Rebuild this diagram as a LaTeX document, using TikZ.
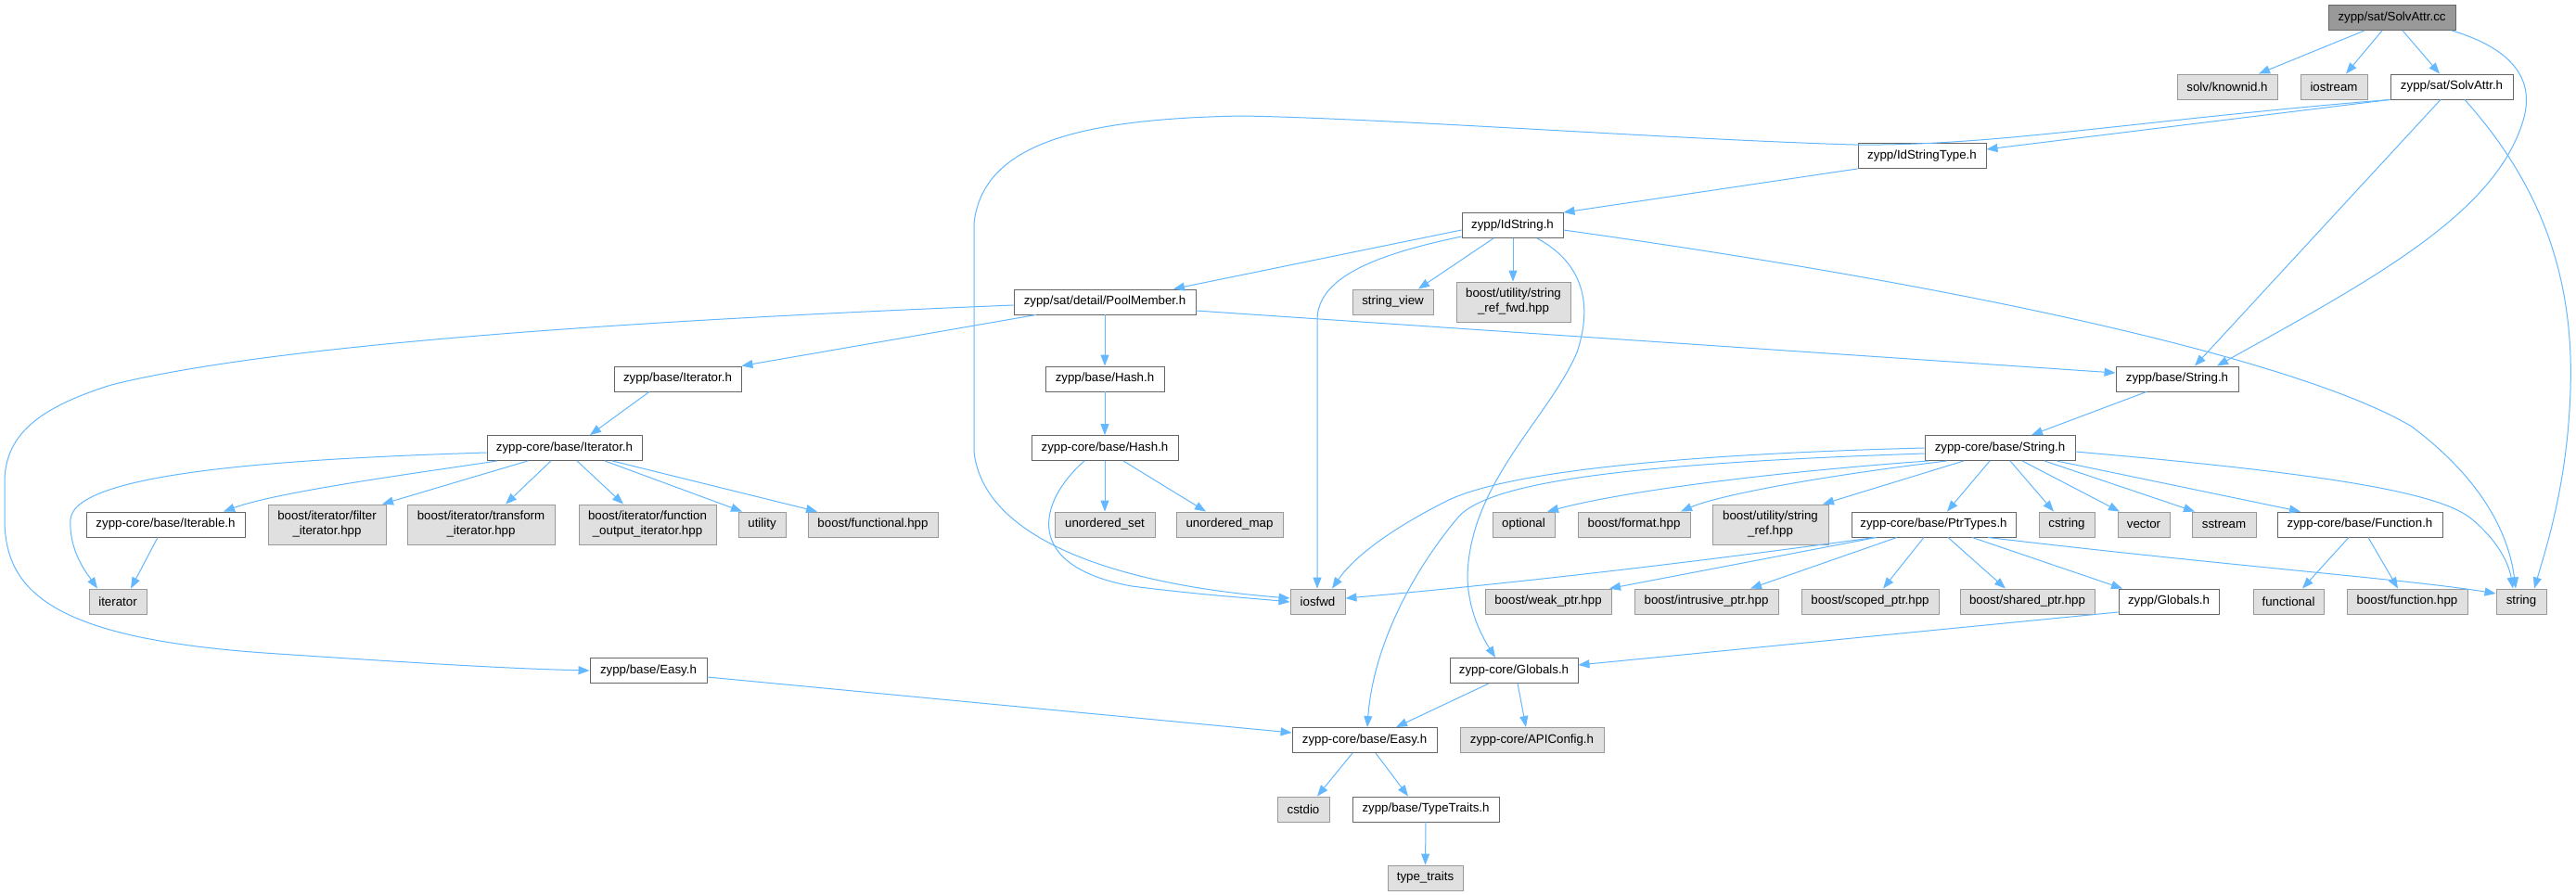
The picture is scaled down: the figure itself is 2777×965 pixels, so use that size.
\documentclass[tikz,border=0pt]{standalone}
\usepackage{fontspec}
\setmainfont{Liberation Sans}
\usetikzlibrary{arrows.meta}
\definecolor{cdark}{HTML}{666666}
\definecolor{cmid}{HTML}{999999}
\definecolor{clight}{HTML}{E0E0E0}
\definecolor{eblue}{HTML}{63B8FF}
\begin{document}
\begin{tikzpicture}[x=1pt,y=-1pt,
  base/.style={draw, rectangle, inner sep=0pt, minimum height=27pt, font=\fontsize{13.3}{16}\selectfont, text=black, line width=0.9pt},
  wbox/.style={base, draw=cdark, fill=white},
  gbox/.style={base, draw=cmid, fill=clight},
  rootbox/.style={base, draw=cdark, fill=cmid},
  twoline/.style={align=center, minimum height=43pt},
  edge/.style={draw=eblue, line width=1pt, -{Triangle[length=12pt,width=9pt]}}]
\useasboundingbox (0,0) rectangle (2777,965);
\fill[white] (0,0) rectangle (2777,965);
% row 0
\node[rootbox, minimum width=137] (cc) at (2578.5,19) {zypp/sat/SolvAttr.cc};
% row 1
\node[gbox, minimum width=108] (knownid) at (2401,93.5) {solv/knownid.h};
\node[gbox, minimum width=72] (iostream) at (2516,93.5) {iostream};
\node[wbox, minimum width=132] (SAh) at (2643,93.5) {zypp/sat/SolvAttr.h};
% row 2
\node[wbox, minimum width=138] (IST) at (2072,168) {zypp/IdStringType.h};
% row 3
\node[wbox, minimum width=109] (IdS) at (1630.5,243) {zypp/IdString.h};
% row 4
\node[gbox, minimum width=87] (sview) at (1501.5,325.5) {string\_view};
\node[gbox, twoline, minimum width=123] (sreffwd) at (1631.5,325.5) {boost/utility/string\\\_ref\_fwd.hpp};
\node[wbox, minimum width=196] (PM) at (1191,325.5) {zypp/sat/detail/PoolMember.h};
% row 5
\node[wbox, minimum width=137] (zIt) at (730.5,408.5) {zypp/base/Iterator.h};
\node[wbox, minimum width=128] (zHash) at (1191,408.5) {zypp/base/Hash.h};
\node[wbox, minimum width=132] (zString) at (2347,408.5) {zypp/base/String.h};
% row 6
\node[wbox, minimum width=167] (cIt) at (608.5,483) {zypp-core/base/Iterator.h};
\node[wbox, minimum width=158] (cHash) at (1191,483) {zypp-core/base/Hash.h};
\node[wbox, minimum width=162] (cString) at (2156,483) {zypp-core/base/String.h};
% row 7
\node[wbox, minimum width=171] (Iterable) at (178.5,565.5) {zypp-core/base/Iterable.h};
\node[gbox, twoline, minimum width=127] (filt) at (352.5,565.5) {boost/iterator/filter\\\_iterator.hpp};
\node[gbox, twoline, minimum width=159] (trans) at (518.5,565.5) {boost/iterator/transform\\\_iterator.hpp};
\node[gbox, twoline, minimum width=148] (fout) at (698,565.5) {boost/iterator/function\\\_output\_iterator.hpp};
\node[gbox, minimum width=51] (utility) at (821.5,565.5) {utility};
\node[gbox, minimum width=140] (fhpp) at (941,565.5) {boost/functional.hpp};
\node[gbox, minimum width=108] (uset) at (1191,565.5) {unordered\_set};
\node[gbox, minimum width=115] (umap) at (1325.5,565.5) {unordered\_map};
\node[gbox, minimum width=67] (optional) at (1642.5,565.5) {optional};
\node[gbox, minimum width=121] (format) at (1761.5,565.5) {boost/format.hpp};
\node[gbox, twoline, minimum width=125] (sref) at (1908.5,565.5) {boost/utility/string\\\_ref.hpp};
\node[wbox, minimum width=177] (Ptr) at (2084.5,565.5) {zypp-core/base/PtrTypes.h};
\node[gbox, minimum width=60] (cstring) at (2228,565.5) {cstring};
\node[gbox, minimum width=56] (vector) at (2311,565.5) {vector};
\node[gbox, minimum width=69] (sstream) at (2397.5,565.5) {sstream};
\node[wbox, minimum width=178] (Func) at (2544,565.5) {zypp-core/base/Function.h};
% row 8
\node[gbox, minimum width=62] (iterator) at (127,648.5) {iterator};
\node[gbox, minimum width=59] (iosfwd) at (1420.5,648.5) {iosfwd};
\node[gbox, minimum width=136] (weak) at (1669,648.5) {boost/weak\_ptr.hpp};
\node[gbox, minimum width=155] (intr) at (1839.5,648.5) {boost/intrusive\_ptr.hpp};
\node[gbox, minimum width=148] (scoped) at (2016,648.5) {boost/scoped\_ptr.hpp};
\node[gbox, minimum width=145] (shared) at (2185.5,648.5) {boost/shared\_ptr.hpp};
\node[wbox, minimum width=108] (zGlob) at (2338,648.5) {zypp/Globals.h};
\node[gbox, minimum width=76] (functional) at (2467,648.5) {functional};
\node[gbox, minimum width=130] (fhpp2) at (2595,648.5) {boost/function.hpp};
\node[gbox, minimum width=54] (string) at (2718,648.5) {string};
% row 9
\node[wbox, minimum width=126] (zEasy) at (699,723) {zypp/base/Easy.h};
\node[wbox, minimum width=138] (cGlob) at (1632,723) {zypp-core/Globals.h};
% row 10
\node[wbox, minimum width=156] (cEasy) at (1471,798) {zypp-core/base/Easy.h};
\node[gbox, minimum width=155] (api) at (1651.5,798) {zypp-core/APIConfig.h};
% row 11
\node[gbox, minimum width=56] (cstdio) at (1405,872.5) {cstdio};
\node[wbox, minimum width=158] (tt) at (1537,872.5) {zypp/base/TypeTraits.h};
% row 12
\node[gbox, minimum width=81] (ttraits) at (1536.5,946.5) {type\_traits};

% edges from SolvAttr.cc
\draw[edge] (2549,0 |- cc.south) -- (2435,0 |- knownid.north);
\draw[edge] (2568,0 |- cc.south) -- (2529,0 |- iostream.north);
\draw[edge] (2590,0 |- cc.south) -- (2630,0 |- SAh.north);
\draw[edge] (2643,0 |- cc.south) .. controls (2700,50) and (2735,80) .. (2720,130) .. controls (2690,230) and (2560,300) .. (2390,0 |- zString.north);
% SolvAttr.h
\draw[edge] (SAh.south west) -- (IST.east |- 0,161);
\draw[edge] (SAh.south west) .. controls (2300,130) and (2150,158) .. (1998,156) .. controls (1800,150) and (1500,128) .. (1340,125) .. controls (1150,128) and (1060,160) .. (1050,240) -- (1050,487) .. controls (1060,580) and (1200,630) .. (iosfwd.west |- 0,645);
\draw[edge] (2631,0 |- SAh.south) -- (2366,0 |- zString.north);
\draw[edge] (2657,0 |- SAh.south) .. controls (2740,200) and (2775,300) .. (2771,420) .. controls (2768,520) and (2745,590) .. (2732,0 |- string.north);
% IdStringType.h
\draw[edge] (IST.south west) -- (IdS.north east);
% IdString.h
\draw[edge] (IdS.west |- 0,248) -- (1265,0 |- PM.north);
\draw[edge] (IdS.west |- 0,255) .. controls (1480,275) and (1420,300) .. (1420,345) -- (1420,0 |- iosfwd.north);
\draw[edge] (1610,0 |- IdS.south) -- (1529,0 |- sview.north);
\draw[edge] (1631,0 |- IdS.south) -- (1631,0 |- sreffwd.north);
\draw[edge] (1657,0 |- IdS.south) .. controls (1700,280) and (1720,320) .. (1700,380) .. controls (1670,450) and (1585,520) .. (1582,620) .. controls (1582,660) and (1600,690) .. (1612,0 |- cGlob.north);
\draw[edge] (IdS.east |- 0,248) .. controls (2200,320) and (2500,400) .. (2600,460) .. controls (2680,520) and (2705,580) .. (2712,0 |- string.north);
% PoolMember.h
\draw[edge] (1117,0 |- PM.south) -- (zIt.north east);
\draw[edge] (PM.south) -- (zHash.north);
\draw[edge] (PM.east |- 0,335) -- (zString.west |- 0,402);
\draw[edge] (PM.west |- 0,329) .. controls (700,345) and (300,370) .. (120,415) .. controls (40,440) and (5,470) .. (5,520) -- (5,560) .. controls (5,640) and (60,690) .. (300,705) .. controls (450,715) and (550,721) .. (zEasy.west);
% Iterator
\draw[edge] (700,0 |- zIt.south) -- (636,0 |- cIt.north);
\draw[edge] (536,0 |- cIt.south) .. controls (450,510) and (300,530) .. (241,0 |- Iterable.north);
\draw[edge] (569,0 |- cIt.south) -- (412,0 |- filt.north);
\draw[edge] (594,0 |- cIt.south) -- (545,0 |- trans.north);
\draw[edge] (622,0 |- cIt.south) -- (672,0 |- fout.north);
\draw[edge] (652,0 |- cIt.south) -- (800,0 |- utility.north);
\draw[edge] (660,0 |- cIt.south) -- (881,0 |- fhpp.north);
\draw[edge] (cIt.west |- 0,488) .. controls (300,495) and (80,510) .. (76,560) .. controls (74,595) and (95,620) .. (105,0 |- iterator.north);
\draw[edge] (170,0 |- Iterable.south) -- (141,0 |- iterator.north);
% Hash
\draw[edge] (zHash.south) -- (cHash.north);
\draw[edge] (cHash.south) -- (uset.north);
\draw[edge] (1211,0 |- cHash.south) -- (1300,0 |- umap.north);
\draw[edge] (1169,0 |- cHash.south) .. controls (1120,540) and (1100,610) .. (1220,632) .. controls (1300,642) and (1350,645) .. (iosfwd.west |- 0,649);
% String
\draw[edge] (2314,0 |- zString.south) -- (2190,0 |- cString.north);
\draw[edge] (2079,0 |- cString.south) .. controls (1900,510) and (1750,530) .. (1668,0 |- optional.north);
\draw[edge] (2099,0 |- cString.south) .. controls (1950,515) and (1850,535) .. (1812,0 |- format.north);
\draw[edge] (2117,0 |- cString.south) -- (1965,0 |- sref.north);
\draw[edge] (2145,0 |- cString.south) -- (2099,0 |- Ptr.north);
\draw[edge] (2167,0 |- cString.south) -- (2214,0 |- cstring.north);
\draw[edge] (2180,0 |- cString.south) -- (2285,0 |- vector.north);
\draw[edge] (2204,0 |- cString.south) -- (2366,0 |- sstream.north);
\draw[edge] (2217,0 |- cString.south) -- (2480,0 |- Func.north);
\draw[edge] (cString.east |- 0,487) .. controls (2500,510) and (2630,530) .. (2665,560) .. controls (2695,585) and (2705,610) .. (2709,0 |- string.north);
\draw[edge] (cString.west |- 0,483) .. controls (1800,490) and (1620,510) .. (1560,540) .. controls (1500,570) and (1460,600) .. (1436,0 |- iosfwd.north);
\draw[edge] (cString.west |- 0,489) .. controls (1750,500) and (1600,520) .. (1570,560) .. controls (1520,620) and (1480,700) .. (1474,0 |- cEasy.north);
% PtrTypes
\draw[edge] (2021,0 |- Ptr.south) .. controls (1800,610) and (1600,632) .. (iosfwd.east |- 0,645);
\draw[edge] (2023,0 |- Ptr.south) -- (1735,0 |- weak.north);
\draw[edge] (2045,0 |- Ptr.south) -- (1887,0 |- intr.north);
\draw[edge] (2074,0 |- Ptr.south) -- (2030,0 |- scoped.north);
\draw[edge] (2100,0 |- Ptr.south) -- (2162,0 |- shared.north);
\draw[edge] (2126,0 |- Ptr.south) -- (2288,0 |- zGlob.north);
\draw[edge] (2143,0 |- Ptr.south) .. controls (2400,610) and (2600,625) .. (string.west |- 0,640);
% Function
\draw[edge] (2532,0 |- Func.south) -- (2482,0 |- functional.north);
\draw[edge] (2553,0 |- Func.south) -- (2585,0 |- fhpp2.north);
% Globals
\draw[edge] (zGlob.west |- 0,660) -- (cGlob.east |- 0,717);
\draw[edge] (1605,0 |- cGlob.south) -- (1505,0 |- cEasy.north);
\draw[edge] (1636,0 |- cGlob.south) -- (1645,0 |- api.north);
% Easy
\draw[edge] (zEasy.east |- 0,730) -- (cEasy.west |- 0,790);
\draw[edge] (1458,0 |- cEasy.south) -- (1420,0 |- cstdio.north);
\draw[edge] (1483,0 |- cEasy.south) -- (1518,0 |- tt.north);
\draw[edge] (tt.south) -- (1536.5,0 |- ttraits.north);
\end{tikzpicture}
\end{document}
